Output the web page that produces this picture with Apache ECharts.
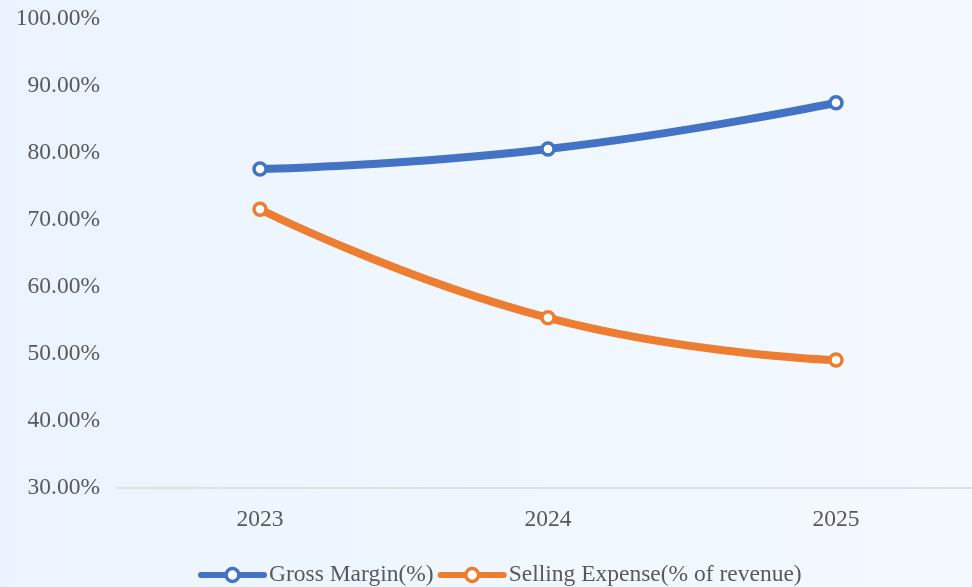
<!DOCTYPE html>
<html>
<head>
<meta charset="utf-8">
<script src="https://cdn.jsdelivr.net/npm/echarts@6/dist/echarts.min.js"></script>
<style>
  html, body { margin: 0; padding: 0; }
  #main { width: 972px; height: 587px; }
</style>
</head>
<body>
<div id="main"></div>
<script>
// 数据
var years = ['2023', '2024', '2025'];
var grossMargin = [77.6, 80.6, 87.5];   // Gross Margin(%)
var sellingExpense = [71.6, 55.4, 49.1]; // Selling Expense(% of revenue)
var seriesNames = ['Gross Margin(%)', 'Selling Expense(% of revenue)'];
var colors = ['#4472c4', '#ed7d31'];

var myChart = echarts.init(document.getElementById('main'));
var fontFamily = '"Liberation Serif", "Times New Roman", serif';

option = {
  backgroundColor: new echarts.graphic.LinearGradient(0, 0, 1, 0, [
    { offset: 0, color: '#ebf4fe' },
    { offset: 1, color: '#f4f9ff' }
  ]),
  color: colors,
  textStyle: { fontFamily: fontFamily },
  legend: {
    data: seriesNames,
    left: 193,
    top: 558,
    itemWidth: 63,
    itemHeight: 16,
    itemGap: 4,
    lineStyle: { width: 6, cap: 'round' },
    itemStyle: { borderWidth: 3.5 },
    textStyle: { fontSize: 23.5, color: '#595959', fontFamily: fontFamily }
  },
  grid: {
    left: 116,
    top: 19,
    width: 864,
    height: 469,
    containLabel: false,
    outerBoundsMode: 'none'
  },
  xAxis: {
    type: 'category',
    data: years,
    boundaryGap: true,
    axisLine: { lineStyle: { color: '#d9d9d9', width: 1.5 } },
    axisTick: { show: false },
    axisLabel: { fontSize: 23.5, color: '#595959', margin: 20, fontFamily: fontFamily }
  },
  yAxis: {
    type: 'value',
    min: 30,
    max: 100,
    interval: 10,
    axisLine: { show: false },
    axisTick: { show: false },
    splitLine: { show: false },
    axisLabel: {
      fontSize: 23.5,
      color: '#595959',
      margin: 16,
      fontFamily: fontFamily,
      formatter: function (v) { return v.toFixed(2) + '%'; }
    }
  },
  series: [
    {
      name: seriesNames[0],
      type: 'line',
      data: grossMargin,
      smooth: true,
      symbol: 'circle',
      symbolSize: 12,
      lineStyle: { width: 8, cap: 'round', color: colors[0] },
      itemStyle: { color: '#ffffff', borderColor: colors[0], borderWidth: 3.5 }
    },
    {
      name: seriesNames[1],
      type: 'line',
      data: sellingExpense,
      smooth: true,
      symbol: 'circle',
      symbolSize: 12,
      lineStyle: { width: 8, cap: 'round', color: colors[1] },
      itemStyle: { color: '#ffffff', borderColor: colors[1], borderWidth: 3.5 }
    }
  ]
};
myChart.setOption(option);
</script>
</body>
</html>
